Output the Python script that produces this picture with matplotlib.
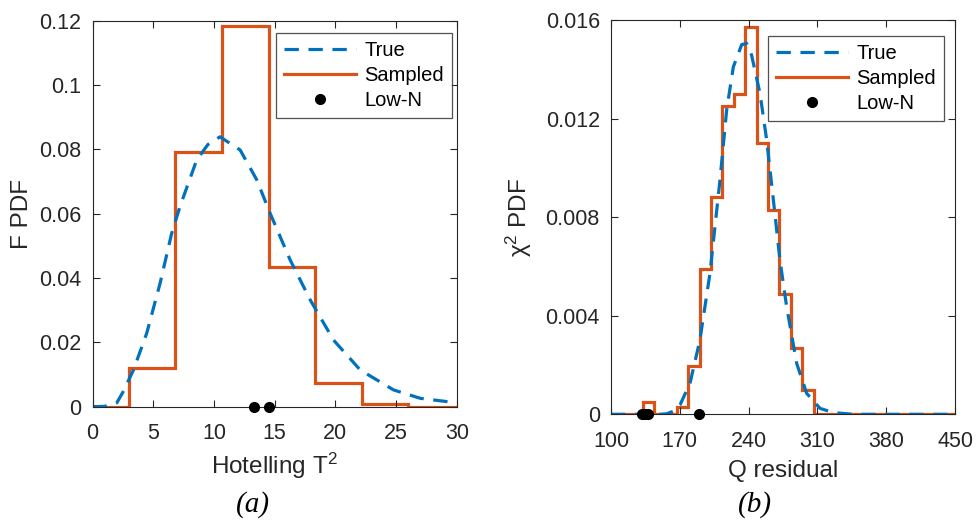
import numpy as np
import matplotlib
matplotlib.use('Agg')
import matplotlib.pyplot as plt

plt.rcParams['font.family'] = ['Liberation Sans', 'DejaVu Sans']
plt.rcParams['mathtext.fontset'] = 'custom'
plt.rcParams['mathtext.rm'] = 'Liberation Sans'
plt.rcParams['mathtext.it'] = 'Liberation Sans:italic'

BLUE = '#0072BD'
ORANGE = '#D95319'

# (a) Hotelling T^2
t2_edges = [3.0, 6.83, 10.67, 14.5, 18.33, 22.17, 26.0]
t2_counts = [0.0119, 0.0791, 0.1183, 0.0435, 0.0073, 0.0007]
t2_true_x = [0, 1.0, 2.0, 2.5, 3.37, 4.46, 5.56, 6.52, 7.2, 8.58, 9.5, 10.5,
             12.16, 13.53, 14.63, 16.28, 17.93, 19.85, 22.05, 24.8, 27.0, 30]
t2_true_y = [0, 0.0001, 0.0012, 0.0045, 0.0114, 0.0228, 0.0383, 0.0539, 0.0622,
             0.0767, 0.0815, 0.0839, 0.0798, 0.0705, 0.0601, 0.0456, 0.0332,
             0.0207, 0.0114, 0.0052, 0.0026, 0.0012]
t2_lown = [13.3, 14.5]

# (b) Q residual
q_edges = [132.2, 143.8, 155.4, 167.0, 178.6, 190.2, 201.8, 213.4, 225.0,
           236.6, 248.2, 259.8, 271.4, 283.0, 294.6, 306.2]
q_counts = [0.0005, 0.0, 0.0, 0.00028, 0.00197, 0.0059, 0.0088, 0.0125, 0.0130,
            0.0157, 0.0110, 0.0083, 0.0049, 0.0027, 0.0010]
q_true_x = [100, 150, 156.6, 163, 170.2, 180.4, 190.5, 200.7, 210.9, 217.7, 224.5,
            233, 238, 243, 251.6, 258.4, 265.2, 271.9, 278.7, 288.9, 299.1,
            312.7, 326.3, 346.6, 450]
q_true_y = [0, 0, 0.00002, 0.00012, 0.00038, 0.00126, 0.00302, 0.00572, 0.00951,
            0.01235, 0.0141, 0.0150, 0.01505, 0.01458, 0.01302, 0.01113, 0.0087,
            0.00626, 0.00437, 0.00207, 0.00085, 0.00024, 0.00007, 0.0, 0.0]
q_lown = [132.0, 135.0, 138.0, 189.5]


def pad_stairs(edges, counts, lo, hi):
    # extend the histogram with zero level out to the axis limits
    e = [lo] + list(edges) + [hi]
    c = [0.0] + list(counts) + [0.0]
    return c, e


def style_axes(ax):
    ax.tick_params(direction='in', top=True, right=True, length=5,
                   labelsize=15.5, colors='#262626', pad=8)
    ax.tick_params(axis='x', pad=12)
    for s in ax.spines.values():
        s.set_color('#262626')
        s.set_linewidth(0.8)


def add_legend(ax, anchor):
    leg = ax.legend(loc='upper right', fontsize=14.5, handlelength=3.6,
                    handletextpad=0.4, labelspacing=0.3, frameon=True,
                    fancybox=False, edgecolor='#262626', borderpad=0.4,
                    borderaxespad=0, bbox_to_anchor=anchor)
    leg.get_frame().set_linewidth(0.9)
    return leg


fig = plt.figure(figsize=(9.76, 5.23), dpi=100)
ax1 = fig.add_axes([0.0948, 0.2224, 0.3732, 0.738])
ax2 = fig.add_axes([0.626, 0.2078, 0.3525, 0.754])

# panel (a)
ax1.plot(t2_true_x, t2_true_y, '--', color=BLUE, lw=2.3, dashes=(4.5, 3), label='True')
c, e = pad_stairs(t2_edges, t2_counts, 0, 30)
ax1.stairs(c, e, color=ORANGE, lw=2.3, label='Sampled')
ax1.plot(t2_lown, [0] * len(t2_lown), 'o', color='black', ms=7, clip_on=False,
         label='Low-N', zorder=5)
ax1.set_xlim(0, 30)
ax1.set_ylim(0, 0.12)
ax1.set_xticks(np.arange(0, 31, 5))
ax1.set_yticks([0, 0.02, 0.04, 0.06, 0.08, 0.1, 0.12])
ax1.set_yticklabels(['0', '0.02', '0.04', '0.06', '0.08', '0.1', '0.12'])
ax1.set_xlabel('Hotelling T$^2$', fontsize=17.5, color='#262626', labelpad=5)
ax1.set_ylabel('F PDF', fontsize=17.5, color='#262626', labelpad=4.5)
style_axes(ax1)
add_legend(ax1, (0.987, 0.968))

# panel (b)
ax2.plot(q_true_x, q_true_y, '--', color=BLUE, lw=2.3, dashes=(4.5, 3), label='True')
c, e = pad_stairs(q_edges, q_counts, 100, 450)
ax2.stairs(c, e, color=ORANGE, lw=2.3, label='Sampled')
ax2.plot(q_lown, [0] * len(q_lown), 'o', color='black', ms=7, clip_on=False,
         label='Low-N', zorder=5)
ax2.set_xlim(100, 450)
ax2.set_ylim(0, 0.016)
ax2.set_xticks(np.arange(100, 451, 70))
ax2.set_yticks([0, 0.004, 0.008, 0.012, 0.016])
ax2.set_yticklabels(['0', '0.004', '0.008', '0.012', '0.016'])
ax2.set_xlabel('Q residual', fontsize=17.5, color='#262626', labelpad=6)
ax2.set_ylabel('χ$^2$ PDF', fontsize=17.5, color='#262626', labelpad=8)
style_axes(ax2)
add_legend(ax2, (0.968, 0.959))

fig.text(253 / 976, 1 - 505 / 523, '(a)', fontsize=21, family='Liberation Serif',
         style='italic', ha='center', va='center')
fig.text(755 / 976, 1 - 505 / 523, '(b)', fontsize=21, family='Liberation Serif',
         style='italic', ha='center', va='center')

fig.savefig('out.png', dpi=100)
